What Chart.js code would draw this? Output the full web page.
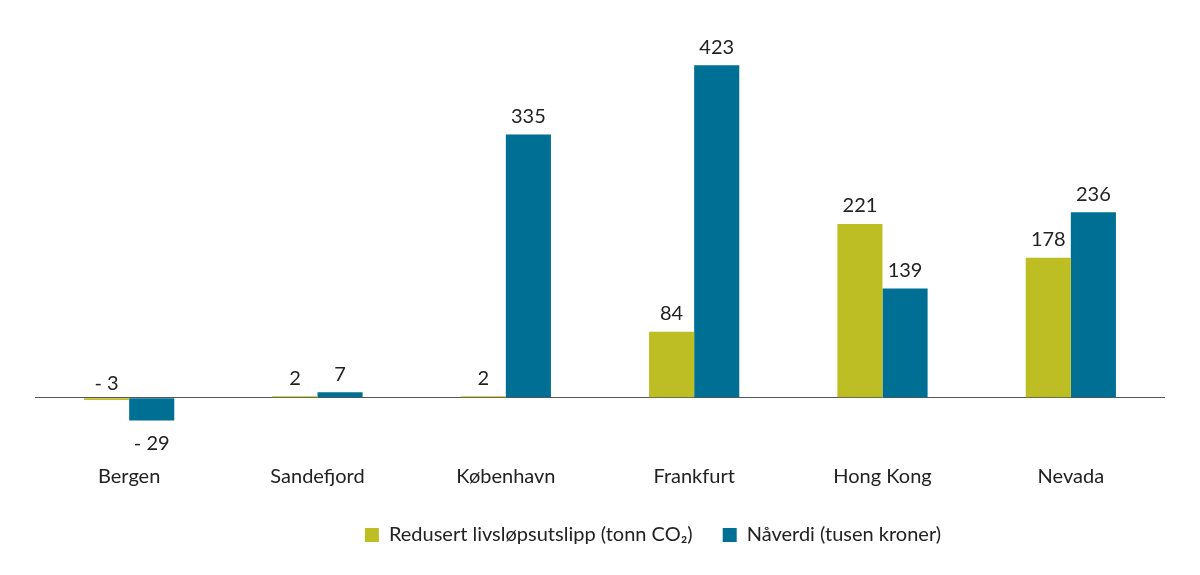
<!DOCTYPE html>
<html>
<head>
<meta charset="utf-8">
<script src="https://cdn.jsdelivr.net/npm/chart.js@4"></script>
<style>
html,body{margin:0;padding:0;background:#fff;}
#wrap{width:1200px;height:575px;position:relative;}
</style>
</head>
<body>
<div id="wrap"><canvas id="c" width="1200" height="575"></canvas></div>
<script>
const categories = ["Bergen", "Sandefjord", "København", "Frankfurt", "Hong Kong", "Nevada"];
const seriesNames = ["Redusert livsløpsutslipp (tonn CO₂)", "Nåverdi (tusen kroner)"];
const utslipp = [-3, 2, 2, 84, 221, 178];
const naverdi = [-29, 7, 335, 423, 139, 236];
const colors = ["#BDBE24", "#006F94"];

const FONT = "Lato, 'Open Sans', sans-serif";

const valueLabels = {
  id: "valueLabels",
  afterDatasetsDraw(chart) {
    const ctx = chart.ctx;
    const zeroY = chart.scales.y.getPixelForValue(0);
    ctx.save();
    ctx.font = "20px " + FONT;
    ctx.fillStyle = "#222";
    ctx.textAlign = "center";
    ctx.textBaseline = "middle";
    chart.data.datasets.forEach((ds, di) => {
      const meta = chart.getDatasetMeta(di);
      meta.data.forEach((bar, i) => {
        const v = ds.data[i];
        const txt = v < 0 ? "- " + Math.abs(v) : String(v);
        let y;
        if (v >= 0) y = Math.min(bar.y, zeroY) - 18;
        else if (Math.abs(v) < 10) y = zeroY - 14;
        else y = bar.y + 23;
        ctx.fillText(txt, bar.x, y);
      });
    });
    ctx.restore();
  }
};

const legendShift = {
  id: "legendShift",
  afterLayout(chart) {
    if (chart.legend) {
      chart.legend.left += 53;
      chart.legend.right += 53;
    }
  }
};

new Chart(document.getElementById("c"), {
  type: "bar",
  data: {
    labels: categories,
    datasets: [
      { label: seriesNames[0], data: utslipp, backgroundColor: colors[0], borderWidth: 0 },
      { label: seriesNames[1], data: naverdi, backgroundColor: colors[1], borderWidth: 0 }
    ]
  },
  options: {
    responsive: false,
    animation: false,
    devicePixelRatio: 1,
    layout: { padding: { top: 44, left: 35, right: 35, bottom: 20 } },
    datasets: { bar: { barPercentage: 1, categoryPercentage: 0.479 } },
    plugins: {
      legend: {
        position: "bottom",
        labels: {
          font: { size: 20, family: FONT },
          color: "#222",
          boxWidth: 14,
          boxHeight: 14,
          padding: 30
        }
      },
      tooltip: { enabled: false }
    },
    scales: {
      x: {
        grid: { display: false },
        border: { display: false },
        ticks: { font: { size: 20, family: FONT }, color: "#222", padding: 20 },
        afterFit: (scale) => { scale.height -= 14; }
      },
      y: {
        min: -50,
        max: 450,
        ticks: { display: false, stepSize: 50 },
        border: { display: false },
        grid: {
          drawTicks: false,
          color: (c) => (c.tick && c.tick.value === 0 ? "#555" : "rgba(0,0,0,0)"),
          lineWidth: 1
        }
      }
    }
  },
  plugins: [valueLabels, legendShift]
});
</script>
</body>
</html>
